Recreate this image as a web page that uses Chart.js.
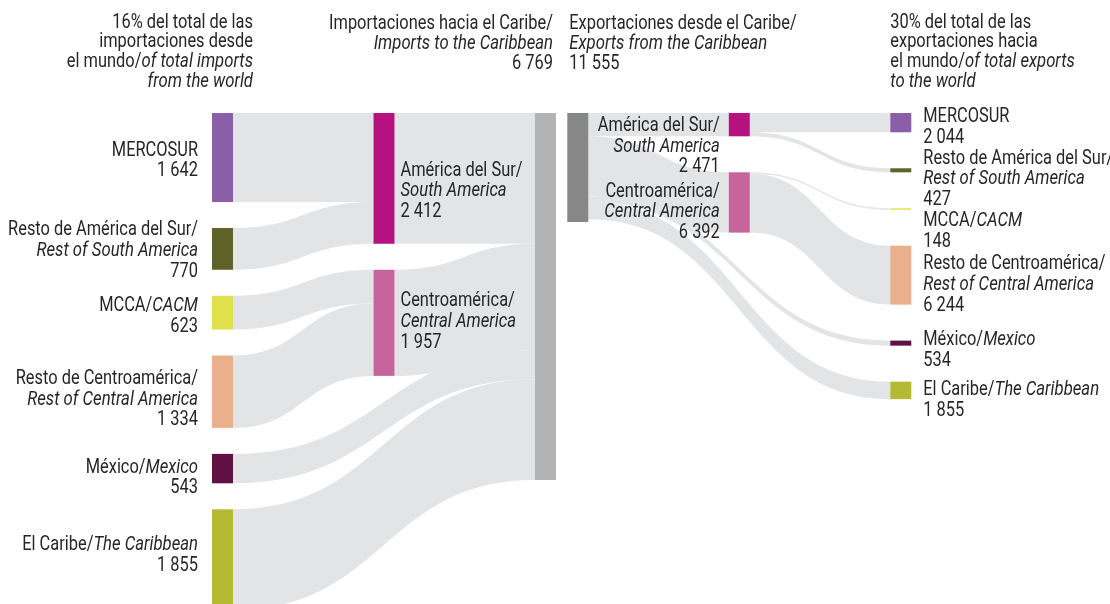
<!DOCTYPE html>
<html>
<head>
<meta charset="utf-8">
<script src="https://cdn.jsdelivr.net/npm/chart.js@4.4.0/dist/chart.umd.min.js"></script>
<style>
  html, body { margin: 0; padding: 0; background: #fff; }
  #wrap { width: 1110px; height: 604px; position: relative; }
</style>
</head>
<body>
<div id="wrap"><canvas id="myChart"></canvas></div>
<script>
// Imports to the Caribbean (millions of dollars)
var impOrigins   = ["MERCOSUR", "Resto de América del Sur", "MCCA", "Resto de Centroamérica", "México", "El Caribe"];
var impOriginsEn = ["", "Rest of South America", "CACM", "Rest of Central America", "Mexico", "The Caribbean"];
var impValues    = [1642, 770, 623, 1334, 543, 1855];
var subregions   = ["América del Sur", "Centroamérica"];
var subregionsEn = ["South America", "Central America"];
var impSubValues = [2412, 1957];
var impTotal     = 6769;

// Exports from the Caribbean
var expDest      = ["MERCOSUR", "Resto de América del Sur", "MCCA", "Resto de Centroamérica", "México", "El Caribe"];
var expDestEn    = ["", "Rest of South America", "CACM", "Rest of Central America", "Mexico", "The Caribbean"];
var expValues    = [2044, 427, 148, 6244, 534, 1855];
var expSubValues = [2471, 6392];
var expTotal     = 11555;

// which subregion each partner belongs to (-1 = linked straight to the Caribbean)
var partnerGroup = [0, 0, 1, 1, -1, -1];

var partnerColors = ["#8a5fa8", "#5f6329", "#dfe04a", "#eaaf8b", "#611141", "#b5ba33"];
var subColors = ["#b5127f", "#c6659b"];
var impColor = "#b3b3b3", expColor = "#878787", flowColor = "#e3e4e6";
var textColor = "#262626";
var FONT = "Roboto, 'Liberation Sans', sans-serif";
var FS = 20;
var SX = 0.82, SX_IT = 0.835; // squeeze text horizontally to get a condensed look

// column positions on the x scale
var colX = [0, 1, 2, 2.2, 3.2, 4.2];
var nodeW = 0.13;
var GAP_IMP = 26, GAP_EXP = 36;

function fmt(v) { return String(v).replace(/\B(?=(\d{3})+(?!\d))/g, " "); }

function nodeLabel(es, en, v) {
  if (!en) return [[[es, false]], [[fmt(v), false]]];
  if ((es + "/" + en).length > 24) return [[[es + "/", false]], [[en, true]], [[fmt(v), false]]];
  return [[[es + "/", false], [en, true]], [[fmt(v), false]]];
}

function drawLines(ctx, lines, x, firstCenter, lh, align) {
  lines.forEach(function (segs, i) {
    var total = 0;
    segs.forEach(function (s) {
      ctx.font = (s[1] ? "italic " : "") + FS + "px " + FONT;
      total += ctx.measureText(s[0]).width * (s[1] ? SX_IT : SX);
    });
    var cx = align === "right" ? x - total : x;
    var by = firstCenter + i * lh + 7;
    segs.forEach(function (s) {
      var sx = s[1] ? SX_IT : SX;
      ctx.font = (s[1] ? "italic " : "") + FS + "px " + FONT;
      ctx.save();
      ctx.translate(cx, by);
      ctx.scale(sx, 1);
      ctx.fillText(s[0], 0, 0);
      ctx.restore();
      cx += ctx.measureText(s[0]).width * sx;
    });
  });
}

function drawBlock(ctx, lines, x, center, lh, align) {
  var first = center - (lines.length - 1) * lh / 2;
  drawLines(ctx, lines, x, first, lh, align);
}

var sankeyPlugin = {
  id: "sankey",
  afterDraw: function (chart) {
    var ctx = chart.ctx;
    var xs = chart.scales.x, yi = chart.scales.yImp, ye = chart.scales.yExp;
    var top = yi.getPixelForValue(0);
    var w = xs.getPixelForValue(nodeW) - xs.getPixelForValue(0);
    function px(c) { return xs.getPixelForValue(colX[c]); }
    function hgt(s, v) { return s.getPixelForValue(v) - s.getPixelForValue(0); }
    function stack(vals, s, gap) {
      var y = top, out = [];
      vals.forEach(function (v) {
        var h = hgt(s, v);
        out.push({ y0: y, y1: y + h });
        y += h + gap;
      });
      return out;
    }
    function band(x0, a0, a1, x1, b0, b1) {
      var mx = (x0 + x1) / 2;
      ctx.beginPath();
      ctx.moveTo(x0, a0);
      ctx.bezierCurveTo(mx, a0, mx, b0, x1, b0);
      ctx.lineTo(x1, b1);
      ctx.bezierCurveTo(mx, b1, mx, a1, x0, a1);
      ctx.closePath();
      ctx.fill();
    }

    var impNodes = stack(impValues, yi, GAP_IMP);
    var impSub = stack(impSubValues, yi, GAP_IMP);
    var impTot = { y0: top, y1: top + hgt(yi, impTotal) };
    var expTot = { y0: top, y1: top + hgt(ye, expTotal) };
    var expSub = stack(expSubValues, ye, GAP_EXP);
    var expNodes = stack(expValues, ye, GAP_EXP);

    ctx.save();
    ctx.fillStyle = flowColor;
    // import flows
    var subOff = impSub.map(function (n) { return n.y0; });
    var totOff = impTot.y0;
    impSubValues.forEach(function (v, g) {
      var h = hgt(yi, v);
      band(px(1) + w, impSub[g].y0, impSub[g].y1, px(2), totOff, totOff + h);
      totOff += h;
    });
    impValues.forEach(function (v, i) {
      var h = hgt(yi, v), g = partnerGroup[i], n = impNodes[i];
      if (g >= 0) {
        band(px(0) + w, n.y0, n.y1, px(1), subOff[g], subOff[g] + h);
        subOff[g] += h;
      } else {
        band(px(0) + w, n.y0, n.y1, px(2), totOff, totOff + h);
        totOff += h;
      }
    });
    // export flows
    var src = expTot.y0;
    expSubValues.forEach(function (v, g) {
      var h = hgt(ye, v);
      band(px(3) + w, src, src + h, px(4), expSub[g].y0, expSub[g].y1);
      src += h;
    });
    var subSrc = expSub.map(function (n) { return n.y0; });
    expValues.forEach(function (v, i) {
      var h = hgt(ye, v), g = partnerGroup[i], n = expNodes[i];
      if (g >= 0) {
        band(px(4) + w, subSrc[g], subSrc[g] + h, px(5), n.y0, n.y1);
        subSrc[g] += h;
      } else {
        band(px(3) + w, src, src + h, px(5), n.y0, n.y1);
        src += h;
      }
    });

    // nodes
    function rect(x, n, c) { ctx.fillStyle = c; ctx.fillRect(x, n.y0, w, n.y1 - n.y0); }
    impNodes.forEach(function (n, i) { rect(px(0), n, partnerColors[i]); });
    impSub.forEach(function (n, i) { rect(px(1), n, subColors[i]); });
    rect(px(2), impTot, impColor);
    rect(px(3), expTot, expColor);
    expSub.forEach(function (n, i) { rect(px(4), n, subColors[i]); });
    expNodes.forEach(function (n, i) { rect(px(5), n, partnerColors[i]); });

    // labels
    ctx.fillStyle = textColor;
    ctx.textBaseline = "alphabetic";
    var LH = 20.7;
    var leftDy = [1.5, 0, 2, 6, 7.5, -6], impSubDy = [11, -2.7], expSubDy = [20, 8], rightDy = [3, 7, 20.5, 8, 5.5, 8];
    impNodes.forEach(function (n, i) {
      drawBlock(ctx, nodeLabel(impOrigins[i], impOriginsEn[i], impValues[i]), px(0) - 14, (n.y0 + n.y1) / 2 + leftDy[i], LH, "right");
    });
    impSub.forEach(function (n, i) {
      drawBlock(ctx, nodeLabel(subregions[i], subregionsEn[i], impSubValues[i]), px(1) + w + 6, (n.y0 + n.y1) / 2 + impSubDy[i], LH, "left");
    });
    expSub.forEach(function (n, i) {
      drawBlock(ctx, nodeLabel(subregions[i], subregionsEn[i], expSubValues[i]), px(4) - 9, (n.y0 + n.y1) / 2 + expSubDy[i], LH, "right");
    });
    expNodes.forEach(function (n, i) {
      drawBlock(ctx, nodeLabel(expDest[i], expDestEn[i], expValues[i]), px(5) + w + 12, (n.y0 + n.y1) / 2 + rightDy[i], LH, "left");
    });

    // column headers
    drawLines(ctx, [[["16% del total de las", false]], [["importaciones desde", false]],
      [["el mundo/", false], ["of total imports", true]], [["from the world", true]]], px(0) + w + 20, 20.5, 19.8, "right");
    drawLines(ctx, [[["Importaciones hacia el Caribe/", false]], [["Imports to the Caribbean", true]],
      [[fmt(impTotal), false]]], px(2) + w - 3, 22, 20, "right");
    drawLines(ctx, [[["Exportaciones desde el Caribe/", false]], [["Exports from the Caribbean", true]],
      [[fmt(expTotal), false]]], px(3) + 2, 22, 20, "left");
    drawLines(ctx, [[["30% del total de las", false]], [["exportaciones hacia", false]],
      [["el mundo/", false], ["of total exports", true]], [["to the world", true]]], px(5), 20.5, 19.8, "left");
    ctx.restore();
  }
};

new Chart("myChart", {
  type: "scatter",
  data: { datasets: [{ data: [], xAxisID: "x", yAxisID: "yImp" }] },
  options: {
    responsive: true,
    maintainAspectRatio: false,
    animation: false,
    layout: { padding: { top: 113, bottom: 0, left: 0, right: 0 } },
    plugins: { legend: { display: false }, tooltip: { enabled: false } },
    scales: {
      x: { type: "linear", display: false, bounds: "data", min: -212 / 161.5, max: 898 / 161.5 },
      yImp: { type: "linear", display: false, bounds: "data", reverse: true, min: 0, max: 491 / 0.054218 },
      yExp: { type: "linear", display: false, bounds: "data", reverse: true, min: 0, max: 491 / 0.009433 }
    }
  },
  plugins: [sankeyPlugin]
});
</script>
</body>
</html>
